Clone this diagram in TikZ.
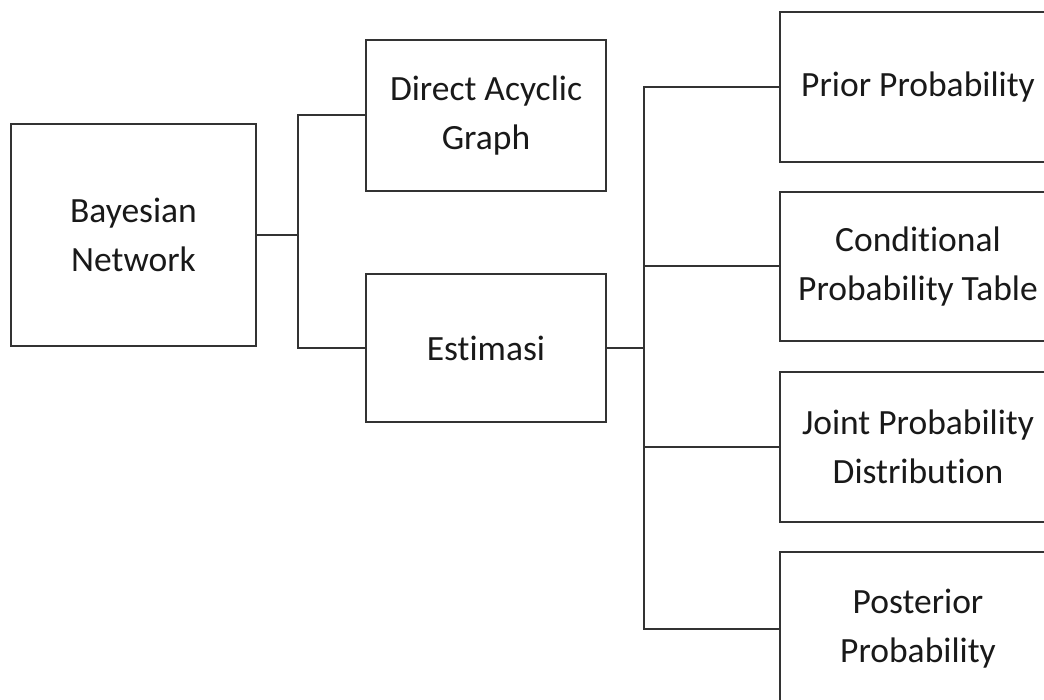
\documentclass[tikz,border=0pt]{standalone}
\usepackage{fontspec}
\setmainfont[Ligatures=NoCommon]{Carlito}
\begin{document}
\begin{tikzpicture}[x=1pt,y=-1pt,
  box/.style={draw=black!80, line width=2pt, rectangle, inner sep=0pt,
    align=center, font=\fontsize{35.5}{49}\selectfont, text=black!90},
  link/.style={draw=black!80, line width=2pt}]
  \useasboundingbox (0,0) rectangle (1044,700);
  \clip (0,0) rectangle (1044,700);
  % root and first level
  \node[box, minimum width=245pt, minimum height=222pt] (bn) at (133.5,235) {Bayesian\\Network};
  \node[box, minimum width=240pt, minimum height=151pt] (dag) at (486,115.5) {Direct Acyclic\\Graph};
  \node[box, minimum width=240pt, minimum height=148pt] (est) at (486,348) {Estimasi};
  % second level (running off the right edge)
  \node[box, minimum width=276pt, minimum height=150pt] (prior) at (918,87) {Prior Probability};
  \node[box, minimum width=276pt, minimum height=149pt] (cpt) at (918,266.5) {Conditional\\Probability Table};
  \node[box, minimum width=276pt, minimum height=150pt] (jpd) at (918,447) {Joint Probability\\Distribution};
  \node[box, minimum width=276pt, minimum height=154pt] (post) at (918,629) {Posterior\\Probability};
  % elbow connectors
  \coordinate (j1) at ([xshift=41pt]bn.east);
  \coordinate (j2) at ([xshift=37pt]est.east);
  \draw[link] (bn.east) -- (j1);
  \draw[link] (j1) |- (dag.west);
  \draw[link] (j1) |- (est.west);
  \draw[link] (est.east) -- (j2);
  \draw[link] (j2) |- (prior.west);
  \draw[link] (j2) |- (cpt.west);
  \draw[link] (j2) |- (jpd.west);
  \draw[link] (j2) |- (post.west);
\end{tikzpicture}
\end{document}
